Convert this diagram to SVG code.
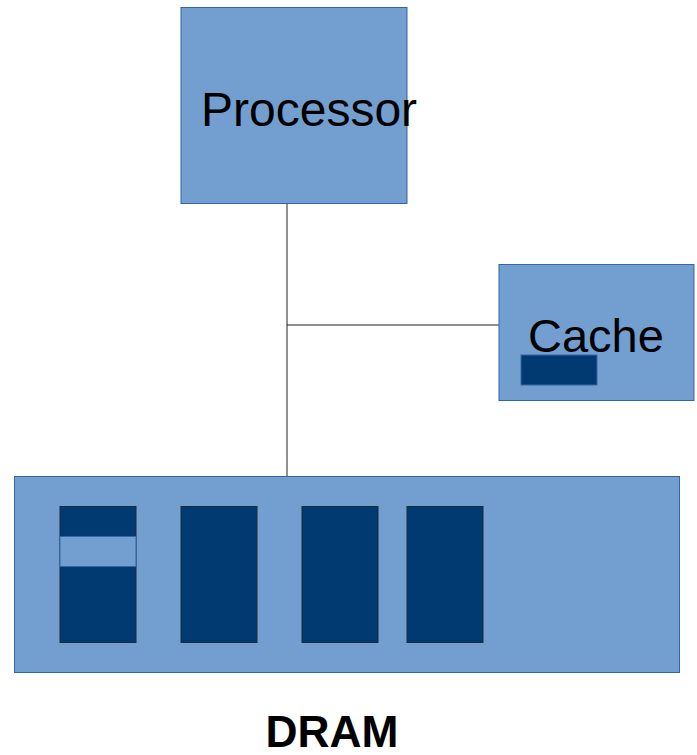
<svg xmlns="http://www.w3.org/2000/svg" width="697" height="755" viewBox="0 0 697 755">
<style>
.box{fill:#729fcf;stroke:#3465a4;stroke-width:1}
.dark{fill:#003a70;stroke:#1a2a3a;stroke-width:1}
.line{stroke:#222;stroke-width:1;fill:none}
text{font-family:"Liberation Sans",Arial,sans-serif;fill:#000}
</style>
<rect width="697" height="755" fill="#fff"/>
<g id="connectors">
<line class="line" x1="287" y1="203" x2="287" y2="476"/>
<line class="line" x1="287" y1="325" x2="499" y2="325"/>
</g>
<g id="processor">
<rect class="box" x="181" y="7.5" width="226" height="196"/>
<text x="201" y="126" font-size="48">Processor</text>
</g>
<g id="cache">
<rect class="box" x="499" y="264.5" width="195" height="136"/>
<text x="528" y="352" font-size="47">Cache</text>
<rect x="521" y="355" width="76" height="30" fill="#003a70" stroke="#3465a4" stroke-width="1"/>
</g>
<g id="dram">
<rect class="box" x="14.5" y="476.5" width="665" height="196"/>
<rect class="dark" x="60" y="506.5" width="76" height="136"/>
<rect x="60" y="536.5" width="76" height="30" fill="#729fcf" stroke="#3465a4" stroke-width="1"/>
<rect class="dark" x="181" y="506.5" width="76" height="136"/>
<rect class="dark" x="302" y="506.5" width="76" height="136"/>
<rect class="dark" x="407" y="506.5" width="76" height="136"/>
<text x="332" y="747" font-size="44" font-weight="bold" text-anchor="middle" textLength="133" lengthAdjust="spacingAndGlyphs">DRAM</text>
</g>
</svg>
